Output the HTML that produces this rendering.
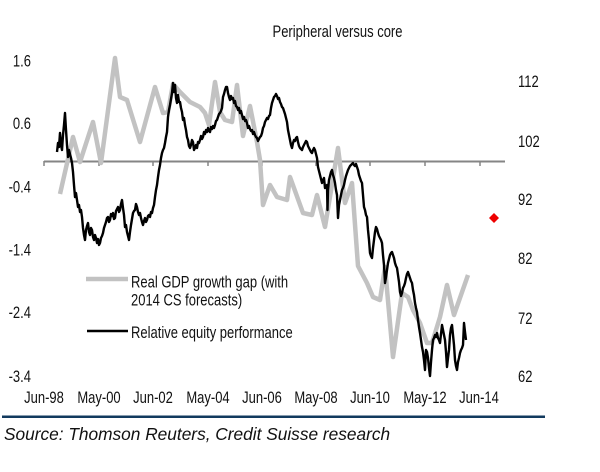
<!DOCTYPE html>
<html><head><meta charset="utf-8"><style>
html,body{margin:0;padding:0;background:#fff;}
svg{display:block;}
text{font-family:"Liberation Sans",Arial,sans-serif;fill:#111;}
</style></head><body>
<svg width="600" height="472" viewBox="0 0 600 472" xmlns="http://www.w3.org/2000/svg">
<rect width="600" height="472" fill="#fff"/>
<!-- title -->
<text transform="translate(337.5,37) scale(1,1.3)" font-size="13" text-anchor="middle">Peripheral versus core</text>
<!-- left axis labels -->
<g font-size="13" text-anchor="end">
<text transform="translate(31,66.5) scale(1,1.3)">1.6</text>
<text transform="translate(31,129) scale(1,1.3)">0.6</text>
<text transform="translate(31,192.5) scale(1,1.3)">-0.4</text>
<text transform="translate(31,255.5) scale(1,1.3)">-1.4</text>
<text transform="translate(31,318) scale(1,1.3)">-2.4</text>
<text transform="translate(31,382) scale(1,1.3)">-3.4</text>
</g>
<!-- right axis labels -->
<g font-size="13">
<text transform="translate(518,87) scale(1,1.3)">112</text>
<text transform="translate(518,147) scale(1,1.3)">102</text>
<text transform="translate(518,205) scale(1,1.3)">92</text>
<text transform="translate(518,264) scale(1,1.3)">82</text>
<text transform="translate(518,324) scale(1,1.3)">72</text>
<text transform="translate(518,382) scale(1,1.3)">62</text>
</g>
<!-- x labels -->
<g font-size="13" text-anchor="middle">
<text transform="translate(44,403) scale(1,1.3)">Jun-98</text>
<text transform="translate(99,403) scale(1,1.3)">May-00</text>
<text transform="translate(153,403) scale(1,1.3)">Jun-02</text>
<text transform="translate(208,403) scale(1,1.3)">May-04</text>
<text transform="translate(262,403) scale(1,1.3)">Jun-06</text>
<text transform="translate(316,403) scale(1,1.3)">May-08</text>
<text transform="translate(370,403) scale(1,1.3)">Jun-10</text>
<text transform="translate(425,403) scale(1,1.3)">May-12</text>
<text transform="translate(479,403) scale(1,1.3)">Jun-14</text>
</g>
<!-- axis -->
<line x1="44" y1="161.5" x2="505" y2="161.5" stroke="#858585" stroke-width="2"/>
<g stroke="#858585" stroke-width="1.5">
<line x1="44" y1="161" x2="44" y2="166"/>
<line x1="99" y1="161" x2="99" y2="166"/>
<line x1="153" y1="161" x2="153" y2="166"/>
<line x1="208" y1="161" x2="208" y2="166"/>
<line x1="262" y1="161" x2="262" y2="166"/>
<line x1="316" y1="161" x2="316" y2="166"/>
<line x1="370" y1="161" x2="370" y2="166"/>
<line x1="425" y1="161" x2="425" y2="166"/>
<line x1="480" y1="161" x2="480" y2="166"/>
</g>
<!-- gray series -->
<polyline fill="none" stroke="#c2c2c2" stroke-width="4.5" stroke-linejoin="round" stroke-linecap="butt" points="60,194 73,137 80,162 93,122 101,163 115,58 120,97 127,100 140,142 155,87 163,113 168,112 173,84 180,92 190,102 200,107 205,113 209,125 215,82 220,112 225,120 232,122 237,85 243,136 250,106 257,142 260,160 263,205 270,185 277,197 287,200 290,177 303,213 312,215 317,195 325,227 338,148 345,203 352,183 358,266 367,283 373,297 380,300 385,267 393,357 402,293 408,297 413,310 420,323 427,343 432,343 440,317 447,285 454,315 468,275"/>
<!-- black series -->
<polyline fill="none" stroke="#000" stroke-width="2.4" stroke-linejoin="round" points="57,152 58,143 59,147 60,133 61,145 62,150 63,135 64,125 65,113 66,130 67,145 68,157 69,150 70,154 71,158 72,163 73,172 74,185 75,197 76,193 77,200 78,207 79,205 80,212 81,210 82,217 83,228 84,235 85,240 86,230 87,226 88,223 89,232 90,235 91,228 92,230 93,237 94,240 95,235 96,238 97,243 98,239 99,245 100,243 101,238 102,236 103,233 104,228 105,225 106,222 107,218 108,217 109,222 110,220 111,214 112,216 113,213 114,219 115,218 116,211 117,209 118,207 119,212 120,210 121,204 122,200 123,208 124,215 125,227 126,225 127,232 128,236 129,240 130,232 131,225 132,219 133,213 134,211 135,210 136,204 137,207 138,212 139,215 140,213 141,218 142,222 143,225 144,221 145,218 146,222 147,220 148,216 149,215 150,217 151,212 152,213 153,208 154,205 155,197 156,190 157,185 158,177 159,170 160,165 161,158 162,153 163,150 164,148 165,143 166,137 167,132 168,117 169,110 170,105 171,99 172,93 173,83 174,92 175,85 176,98 177,103 178,95 179,102 180,102 181,108 182,112 183,120 184,118 185,125 186,130 187,137 188,140 189,146 190,148 191,145 192,140 193,142 194,150 195,148 196,145 197,148 198,142 199,143 200,140 201,136 202,139 203,137 204,132 205,134 206,130 207,132 208,128 209,131 210,132 211,127 212,129 213,126 214,128 215,125 216,121 217,120 218,117 219,114 220,113 221,111 222,108 223,97 224,94 225,90 226,87 227,87 228,93 229,97 230,100 231,96 232,99 233,98 234,103 235,101 236,106 237,107 238,110 239,108 240,113 241,111 242,115 243,119 244,117 245,121 246,120 247,123 248,128 249,126 250,129 251,131 252,130 253,134 254,132 255,135 256,137 257,138 258,141 259,139 260,137 261,136 262,133 263,128 264,126 265,122 266,120 267,118 268,119 269,116 270,115 271,108 272,103 273,100 274,97 275,96 276,94 277,96 278,99 279,98 280,102 281,104 282,107 283,108 284,111 285,114 286,118 287,122 288,130 289,135 290,140 291,145 292,148 293,143 294,140 295,141 296,138 297,137 298,142 299,146 300,148 301,149 302,150 303,147 304,145 305,143 306,141 307,142 308,146 309,148 310,150 311,152 312,153 313,150 314,148 315,150 316,154 317,158 318,167 319,171 320,175 321,179 322,183 323,180 324,178 325,188 326,186 327,185 327.5,210 328,190 329,180 330,176 331,172 332,170 333,175 334,178 335,183 336,190 337,195 338,218 339,205 340,200 341,195 342,190 343,188 344,185 345,180 346,176 347,173 348,170 349,168 350,166 351,165 352,164 353,163 354,165 355,166 356,164 357,167 358,170 359,175 360,178 361,181 362,183 363,195 364,207 365,210 366,215 367,217 368,230 369,240 370,253 371,256 372,258 373,248 374,240 375,232 376,227 377,229 378,233 379,236 380,238 381,240 382,243 383,255 384,265 385,283 386,277 387,270 388,263 389,259 390,255 391,253 392,252 393,255 394,258 395,263 396,266 397,268 398,275 399,282 400,292 401,296 402,293 403,288 404,286 405,283 406,278 407,274 408,272 409,275 410,278 411,281 412,283 413,290 414,295 415,303 416,308 417,312 418,320 419,327 420,333 421,340 422,347 423,352 424,360 425,370 426,350 427,352 428,358 429,368 430,376 431,362 432,350 433,340 434,338 435,335 436,337 437,333 438,338 439,340 440,343 441,334 442,325 443,330 444,335 445,340 446,352 447,367 448,358 449,350 450,335 451,328 452,325 453,335 454,345 455,360 456,366 457,370 458,362 459,358 460,353 461,350 462,348 463,345 464,323 465,332 466,340"/>
<!-- red diamond -->
<polygon points="494,213 499,218 494,223 489,218" fill="#ee0000"/>
<!-- legend -->
<line x1="86" y1="279" x2="128" y2="279" stroke="#c2c2c2" stroke-width="4.5"/>
<line x1="87" y1="331" x2="128" y2="331" stroke="#000" stroke-width="2.5"/>
<g font-size="13">
<text transform="translate(131,287.5) scale(1,1.3)">Real GDP growth gap (with</text>
<text transform="translate(131,305.5) scale(1,1.3)">2014 CS forecasts)</text>
<text transform="translate(131,338) scale(1,1.3)">Relative equity performance</text>
</g>
<!-- separator -->
<rect x="2" y="415.5" width="543" height="2.5" fill="#123a5e"/>
<!-- source -->
<text x="4" y="440" font-size="17.3" font-style="italic">Source: Thomson Reuters, Credit Suisse research</text>
</svg>
</body></html>
